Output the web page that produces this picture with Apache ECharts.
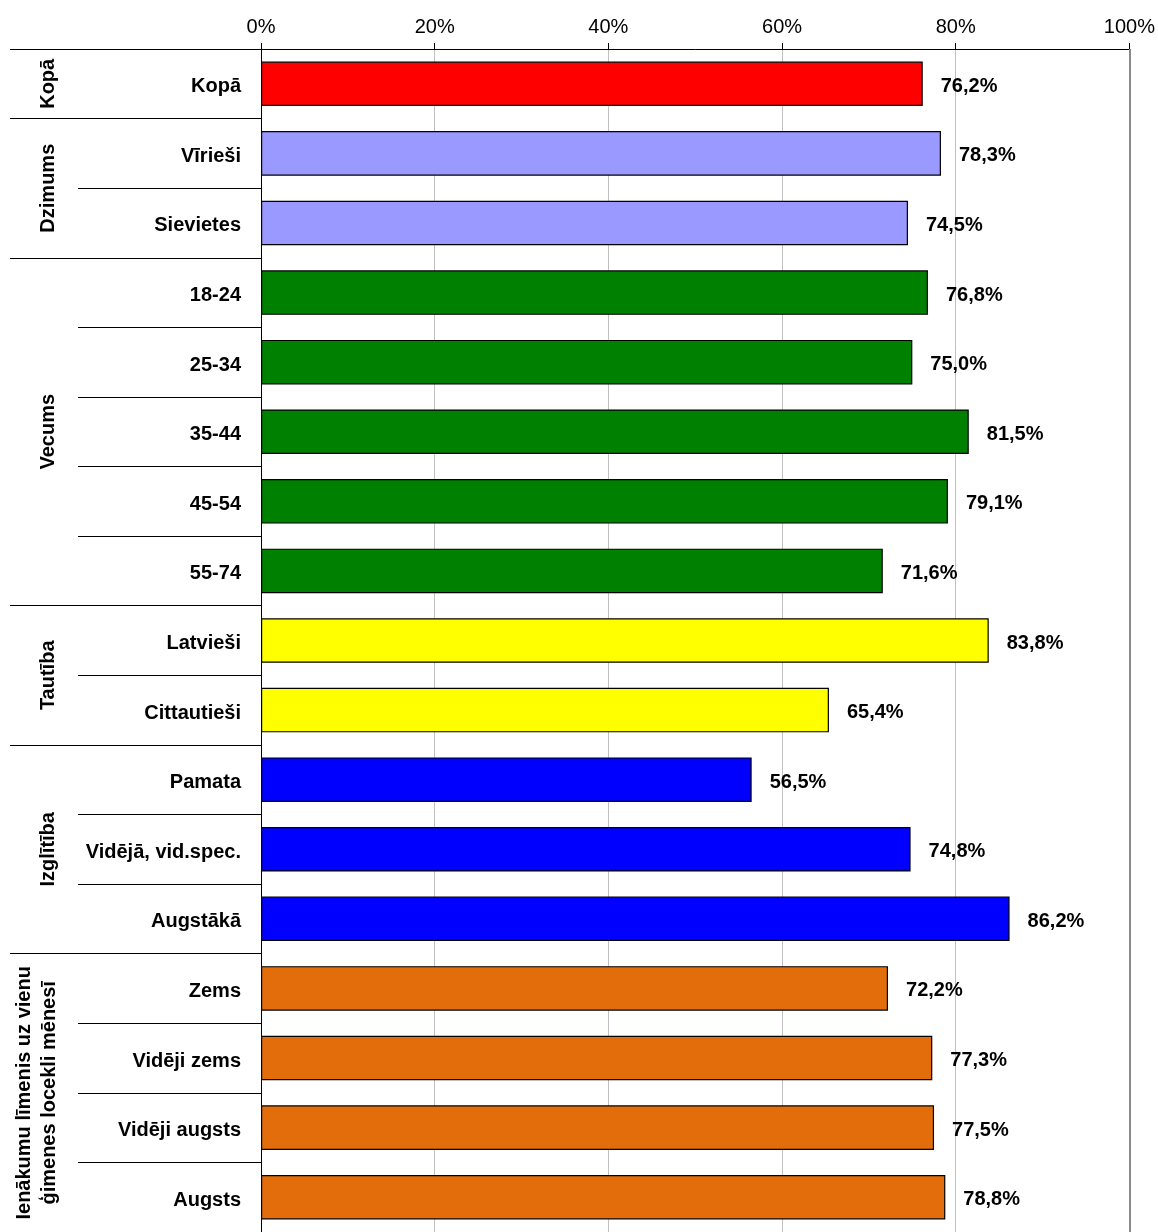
<!DOCTYPE html>
<html><head><meta charset="utf-8">
<script src="https://cdn.jsdelivr.net/npm/echarts@6/dist/echarts.min.js"></script>
<style>html,body{margin:0;padding:0;background:#fff}#c{width:1158px;height:1232px}</style>
</head><body><div id="c"></div>
<script>
const categories = ['Kopā','Vīrieši','Sievietes','18-24','25-34','35-44','45-54','55-74','Latvieši','Cittautieši','Pamata','Vidējā, vid.spec.','Augstākā','Zems','Vidēji zems','Vidēji augsts','Augsts'];
const values = [76.2,78.3,74.5,76.8,75.0,81.5,79.1,71.6,83.8,65.4,56.5,74.8,86.2,72.2,77.3,77.5,78.8];
const groupNames = ['Kopā','Dzimums','Vecums','Tautība','Izglītība','Ienākumu līmenis uz vienu\nģimenes locekli mēnesī'];
const groupSizes = [1,2,5,2,3,4];
const groupColors = ['#FF0000','#9999FF','#008000','#FFFF00','#0000FF','#E36C0B'];
const xTicks = [0,20,40,60,80,100];

const FONT = '"Liberation Sans", Arial, sans-serif';
const groupStarts = [];
const colorOf = [];
let acc = 0;
groupSizes.forEach((s, g) => { groupStarts.push(acc); for (let i = 0; i < s; i++) colorOf.push(groupColors[g]); acc += s; });

const chart = echarts.init(document.getElementById('c'), null, {renderer: 'canvas'});
chart.setOption({
  animation: false,
  backgroundColor: '#fff',
  grid: {left: 261, top: 49, width: 869, height: 1187, containLabel: false},
  xAxis: {
    type: 'value', position: 'top', min: xTicks[0], max: xTicks[xTicks.length - 1], interval: xTicks[1] - xTicks[0],
    axisLine: {show: true, lineStyle: {color: '#000', width: 1}},
    axisTick: {show: true, length: 6, lineStyle: {color: '#000', width: 1}},
    axisLabel: {formatter: '{value}%', color: '#000', fontFamily: FONT, fontSize: 20, margin: 12},
    splitLine: {show: true, lineStyle: {color: ['#c0c0c0','#c0c0c0','#c0c0c0','#c0c0c0','#c0c0c0','#8a8a8a'], width: 1}}
  },
  yAxis: [{
    type: 'category', data: categories, inverse: true, position: 'left',
    axisLine: {show: true, onZero: false, lineStyle: {color: '#000', width: 1}},
    axisTick: {show: true, length: 183, lineStyle: {color: '#000', width: 1}},
    axisLabel: {margin: 20, interval: 0, formatter: (v) => '{c|' + v + '}',
      rich: {c: {color: '#000', fontFamily: FONT, fontSize: 20, fontWeight: 'bold', padding: [6, 0, 0, 0]}}}
  }, {
    type: 'category', data: categories, inverse: true, position: 'left',
    axisLine: {show: false},
    axisTick: {show: true, length: 251, interval: (i) => groupStarts.indexOf(i) >= 0, lineStyle: {color: '#000', width: 1}},
    axisLabel: {show: false}
  }],
  series: [{
    type: 'bar', yAxisIndex: 0, barCategoryGap: '36%',
    data: values.map((v, i) => ({value: v, itemStyle: {color: colorOf[i]}})),
    itemStyle: {borderColor: '#000', borderWidth: 1.2},
    label: {show: true, position: 'right', distance: 18, offset: [0, 2.5], color: '#000', fontFamily: FONT, fontSize: 20, fontWeight: 'bold',
      formatter: (p) => p.value.toFixed(1).replace('.', ',') + '%'},
    markLine: {silent: true, symbol: 'none', label: {show: false}, lineStyle: {color: '#8a8a8a', width: 2, type: 'solid'},
      data: [{xAxis: xTicks[xTicks.length - 1]}]}
  }]
});

const graphics = groupNames.map((name, g) => {
  const s = groupStarts[g], e = s + groupSizes[g] - 1;
  const ya = chart.convertToPixel({yAxisIndex: 0}, categories[s]);
  const yb = chart.convertToPixel({yAxisIndex: 0}, categories[e]);
  const multi = name.indexOf('\n') >= 0;
  return {
    type: 'text', x: multi ? 37 : 48, y: (ya + yb) / 2, rotation: Math.PI / 2, silent: true,
    style: {text: name, font: 'bold 20px ' + FONT, fill: '#000', align: 'center', verticalAlign: 'middle', textAlign: 'center', textVerticalAlign: 'middle', lineHeight: 25}
  };
});
chart.setOption({graphic: graphics});
</script></body></html>
